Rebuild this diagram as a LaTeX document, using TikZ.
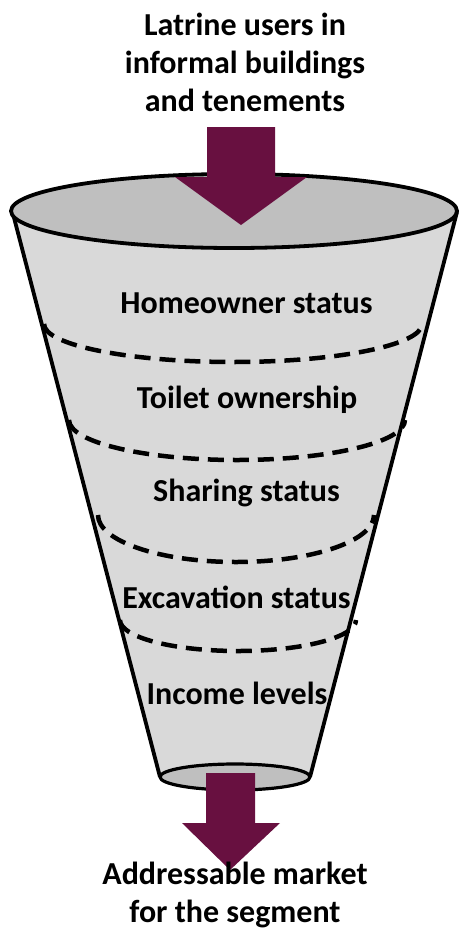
\documentclass[tikz,border=0pt]{standalone}
\usepackage{fontspec}
\setmainfont{Carlito}
\definecolor{arrowmaroon}{RGB}{104,16,64}
\definecolor{funnelgray}{RGB}{217,217,217}
\definecolor{lidgray}{RGB}{191,191,191}
\begin{document}
\begin{tikzpicture}[x=1pt,y=-1pt,
  outline/.style={line width=3.8pt,draw=black,line join=round},
  dashring/.style={line width=4.5pt,dash pattern=on 16pt off 9pt},
  bigarrow/.style={fill=arrowmaroon,draw=none},
  title/.style={font=\fontsize{32}{38}\selectfont\bfseries,align=center,inner sep=0pt},
  lbl/.style={font=\fontsize{32}{38}\selectfont\bfseries,inner sep=0pt}]
\useasboundingbox (0,0) rectangle (459,930);
% funnel body
\path[fill=funnelgray] (12,210) -- (160,777) arc[start angle=180,end angle=0,x radius=75,y radius=13] -- (457,212) -- cycle;
\draw[outline] (12,210) -- (160,777);
\draw[outline] (457,212) -- (310,777);
% bottom opening
\draw[outline,fill=lidgray,line width=3.2pt] (235,777) ellipse[x radius=75,y radius=13];
% top rim
\draw[outline,fill=lidgray] (234,211) ellipse[x radius=223,y radius=37];
% dashed rings
\draw[dashring] (44,324) arc[start angle=180,end angle=0,x radius=189,y radius=38];
\draw[dashring] (69,420) arc[start angle=180,end angle=0,x radius=168,y radius=40];
\draw[dashring] (98,515) arc[start angle=180,end angle=0,x radius=138,y radius=47];
\draw[dashring] (120,620) arc[start angle=180,end angle=0,x radius=118,y radius=31];
% arrows
\path[bigarrow] (207,127) -- (275,127) -- (275,177) -- (307,177) -- (241,225) -- (175,177) -- (207,177) -- cycle;
\path[bigarrow] (206,773) -- (255,773) -- (255,823) -- (280,823) -- (230,870) -- (182,823) -- (206,823) -- cycle;
% texts
\node[title] (top) at (245,62) {Latrine users in\\informal buildings\\and tenements};
\node[lbl] (l1) at (246.5,303) {Homeowner status};
\node[lbl] (l2) at (247,400) {Toilet ownership};
\node[lbl] (l3) at (246.5,493) {Sharing status};
\node[lbl] (l4) at (236.5,597) {Excavation status};
\node[lbl] (l5) at (237,693) {Income levels};
\node[title] (bottom) at (235,895) {Addressable market\\for the segment};
\end{tikzpicture}
\end{document}
